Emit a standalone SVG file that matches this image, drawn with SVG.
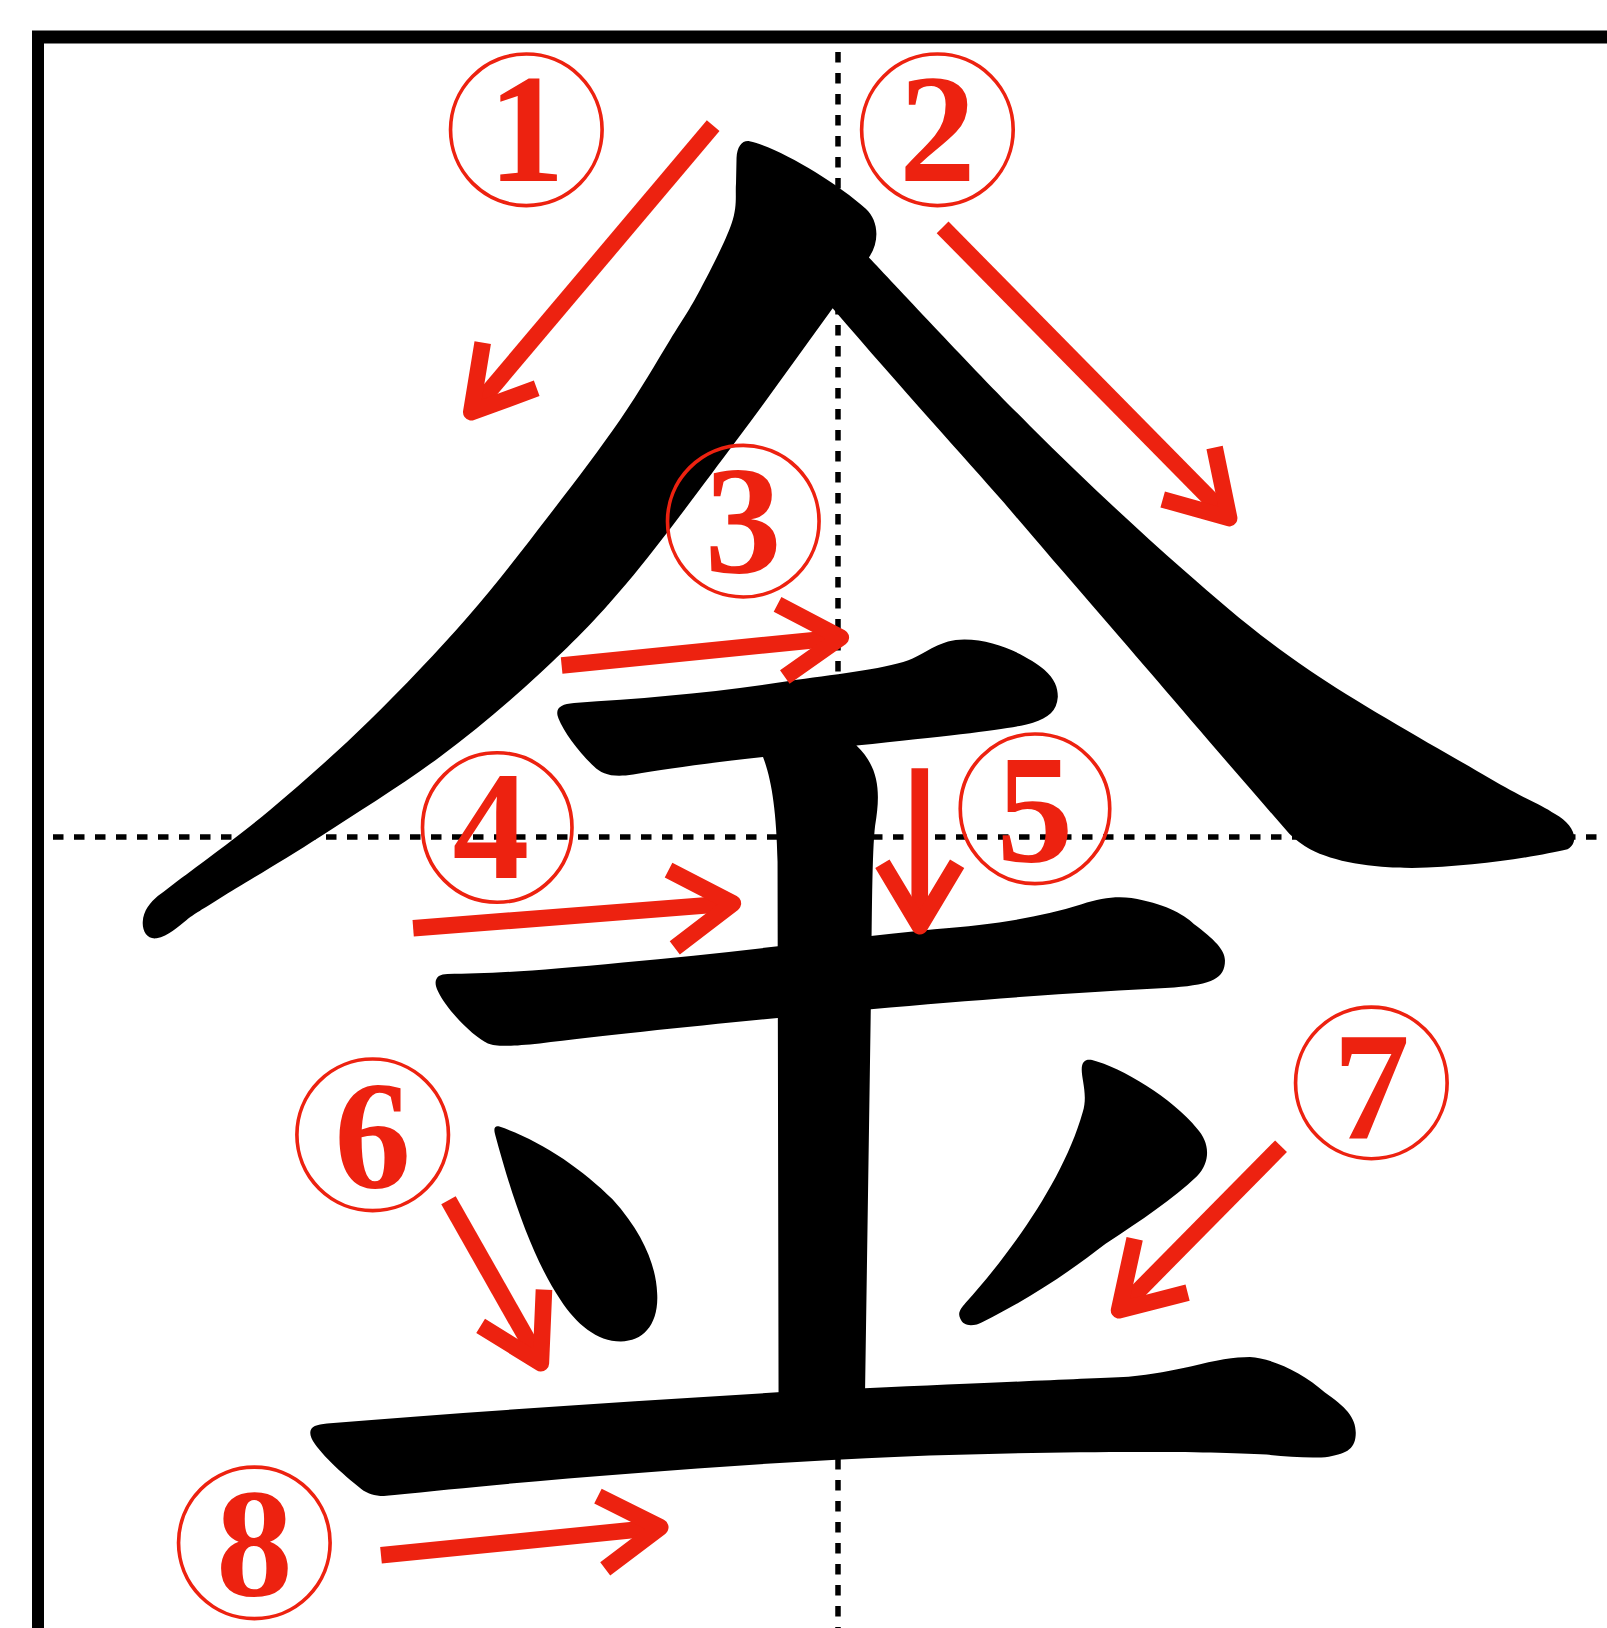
<svg xmlns="http://www.w3.org/2000/svg" width="1607" height="1628" viewBox="0 0 1607 1628">
<style>
.frame{stroke:#000;stroke-width:12;fill:none}
.guide{stroke:#000;stroke-width:5.5;stroke-dasharray:10.5 10.5;fill:none}
.ink{fill:#000;stroke:none}
.arrow{stroke:#ed2210;stroke-width:16;fill:none;stroke-linejoin:round;stroke-linecap:butt}
.circ{fill:none;stroke:#ed2210;stroke-width:3.5}
.num{font-family:"Liberation Serif","Times New Roman",serif;font-weight:bold;font-size:148px;fill:#ed2210;text-anchor:middle}
</style>
<rect width="1607" height="1628" fill="#fff"/>
<g id="frame">
<line class="frame" x1="32" y1="37" x2="1607" y2="37" style="stroke-width:13"/>
<line class="frame" x1="38" y1="31" x2="38" y2="1628"/>
</g>
<g id="guides">
<line class="guide" x1="838" y1="52" x2="838" y2="1628"/>
<line class="guide" x1="53" y1="837" x2="1607" y2="837"/>
</g>
<g transform="scale(1.03811 1.03827)">
<g id="glyph">
<path id="stroke1-2" class="ink" d="M722,136 C750,142 805,175 834,201 C846,212 848,232 837,248 C862.8,275 941.7,360 992,410 C1042.3,460 1094,508.7 1139,548 C1184,587.3 1212.8,612.5 1262,646 C1311.2,679.5 1394.7,726 1434,749 C1473.3,772 1483.7,774.2 1498,784 C1515,793 1523,810 1510,818 C1480,825 1420,835 1360,836 C1320,836 1285,830 1262,818 C1255,814 1248,809 1242,803 C1200,755 1150,697 1115,656 C1080,615 1010,535 967,484 C930,442 870,376 802.1,297 C771.3,339.3 742.8,379.7 709.7,423.8 C676.6,467.9 635.3,524.35 603.7,561.8 C572.1,599.25 550.2,620.7 520.2,648.5 C490.2,676.3 459.2,702.6 423.9,728.8 C388.6,755 343.6,783.1 308.3,805.8 C273,828.5 233.3,851.8 211.9,865.2 C190.5,878.6 187.3,880.2 179.8,886.1 C172,892 162,902 150.9,903.7 C142,905 137,897 137.5,888 C138,877 145,869 152,863 C156,860 160,857 163.8,854 C182.5,839.55 228,806.9 260.1,780.1 C292.2,753.3 324.6,724.4 356.4,693.4 C388.2,662.4 421.9,626.9 450.7,594 C479.5,561.1 504.8,527.6 529.2,496 C553.6,464.4 577.8,432.6 597.2,404.5 C616.6,376.4 632.55,348.4 645.4,327.5 C658.25,306.6 664.4,298 674.3,279.3 C684.2,260.6 699,232.2 704.8,215.1 C710.6,198 708.1,187.5 709,176.6 L709.5,152 C710,141 715,135 722,136 Z"/>
<path id="stroke3" class="ink" d="M553,677 C620,673 690,667 760,656 C800,650 850,645 875,636 C895,628 905,616 929,616 C960,616 990,632 1006,645 C1016,654 1019,662 1019,671 C1018,685 1010,691 995,696 C975,702 930,707 825,718 L735,729 C680,735 640,741 610,746 C590,749 580,746 572,738 C558,725 543,705 538,692 C534,682 540,678 553,677 Z"/>
<path id="stroke5" class="ink" d="M735,715 L735,729 C743,750 748,780 749,830 L750,1360 L833,1360 L839,960 C840,880 840,820 843,795 C848,765 848,740 825,718 L825,705 Z"/>
<path id="stroke4" class="ink" d="M431,938 C470,938 520,935 600,927 C700,918 800,905 900,895 C960,890 1000,884 1042,871 C1060,865 1075,863 1090,865 C1120,870 1140,880 1150,890 C1170,905 1180,915 1180,925 C1180,942 1168,948 1131,951 C1050,955 950,962 839,972 C740,981 600,995 520,1005 C490,1008 478,1008 470,1005 C455,998 430,972 422,955 C416,943 422,938 431,938 Z"/>
<path id="stroke6" class="ink" d="M481,1085 C520,1098 560,1125 590,1155 C620,1188 632,1220 633,1245 C635,1275 620,1292 598,1292 C575,1292 555,1275 540,1252 C515,1215 495,1160 477,1093 C475,1086 477,1084 481,1085 Z"/>
<path id="stroke7" class="ink" d="M1052,1021 C1080,1028 1130,1058 1153,1087 C1165,1100 1167,1118 1153,1133 C1130,1155 1100,1175 1065,1198 C1030,1225 990,1252 947,1273 C938,1278 928,1278 925,1270 C922,1264 926,1260 930,1255 C975,1205 1025,1135 1043,1071 C1048,1055 1042,1040 1042,1030 C1042,1022 1046,1020 1052,1021 Z"/>
<path id="stroke8" class="ink" d="M315,1371 C450,1360 600,1350 749,1341 L833,1337 C950,1332 1040,1328 1087,1326 C1110,1324 1130,1320 1148,1316 C1170,1310 1190,1307 1204,1307 C1225,1308 1255,1322 1276,1341 C1296,1355 1306,1365 1306,1380 C1306,1395 1298,1400 1280,1403 C1265,1405 1240,1403 1220,1401 C1150,1397 1000,1398 867,1403 C700,1410 500,1427 380,1440 C365,1442 356,1440 348,1434 C330,1420 306,1398 300,1385 C296,1375 303,1372 315,1371 Z"/>
</g>
<g id="arrows">
<g id="arrow1"><line class="arrow" x1="687" y1="121" x2="454" y2="397"/><polyline class="arrow" points="465,330 454,397 517,374"/></g>
<g id="arrow2"><line class="arrow" x1="908" y1="219" x2="1184" y2="499"/><polyline class="arrow" points="1170,431 1184,499 1120,481"/></g>
<g id="arrow3"><line class="arrow" x1="541" y1="641" x2="810" y2="614"/><polyline class="arrow" points="749,582 810,614 756,652"/></g>
<g id="arrow4"><line class="arrow" x1="398" y1="894" x2="706" y2="870"/><polyline class="arrow" points="644,838 706,870 650,913"/></g>
<g id="arrow5"><line class="arrow" x1="886" y1="740" x2="886" y2="892"/><polyline class="arrow" points="850,832 886,892 922,832"/></g>
<g id="arrow6"><line class="arrow" x1="432" y1="1156" x2="521" y2="1313"/><polyline class="arrow" points="524,1242 521,1313 463,1277"/></g>
<g id="arrow7"><line class="arrow" x1="1234" y1="1104" x2="1078" y2="1262"/><polyline class="arrow" points="1093,1193 1078,1262 1144,1245"/></g>
<g id="arrow8"><line class="arrow" x1="367" y1="1498" x2="636" y2="1471"/><polyline class="arrow" points="576,1441 636,1471 583,1511"/></g>
</g>
<g id="n1"><circle class="circ" cx="507" cy="125" r="73"/><text class="num" x="507" y="174">1</text></g>
<g id="n2"><circle class="circ" cx="903" cy="125" r="73"/><text class="num" x="903" y="174">2</text></g>
<g id="n3"><circle class="circ" cx="716" cy="502" r="73"/><text class="num" x="716" y="551">3</text></g>
<g id="n4"><circle class="circ" cx="479" cy="797" r="72"/><text class="num" x="473" y="846">4</text></g>
<g id="n5"><circle class="circ" cx="997" cy="779" r="72"/><text class="num" x="997" y="829">5</text></g>
<g id="n6"><circle class="circ" cx="359" cy="1093" r="73"/><text class="num" x="359" y="1143">6</text></g>
<g id="n7"><circle class="circ" cx="1321" cy="1043" r="73"/><text class="num" x="1321" y="1097">7</text></g>
<g id="n8"><circle class="circ" cx="245" cy="1486" r="73"/><text class="num" x="245" y="1536">8</text></g>
</g>
</svg>
